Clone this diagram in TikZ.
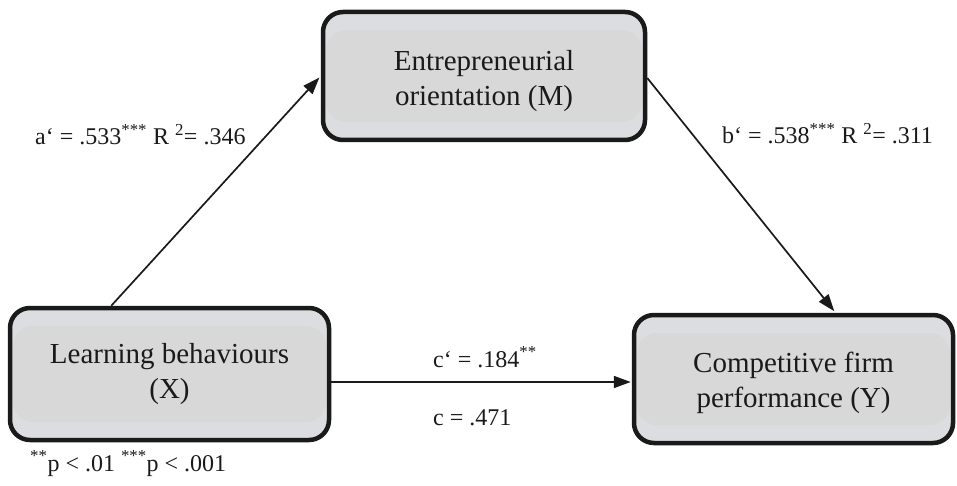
\documentclass[tikz,border=0pt]{standalone}
\usepackage{fontspec}
\setmainfont{Liberation Serif}
\usetikzlibrary{arrows.meta,calc}
\definecolor{boxrim}{HTML}{DCDDE0}
\definecolor{boxcore}{HTML}{D8D8D8}
\definecolor{ink}{HTML}{1A1A1A}
\begin{document}
\begin{tikzpicture}[x=1pt,y=-1pt,
  varbox/.style={draw=ink, line width=4.5pt, rounded corners=20pt, fill=boxrim,
    inner sep=0pt,
    path picture={\fill[boxcore]
      ([xshift=3pt,yshift=-18pt]path picture bounding box.north west) rectangle
      ([xshift=-3pt,yshift=18pt]path picture bounding box.south east);}},
  boxtext/.style={align=center, font=\fontsize{29}{35}\selectfont, text=ink, inner sep=0pt},
  coef/.style={font=\fontsize{24}{28}\selectfont, text=ink, inner sep=0pt, anchor=base west},
  path/.style={draw=ink, line width=1.7pt, -{Triangle[length=17pt,width=12pt]}}]
\useasboundingbox (0,0) rectangle (957,486);

% variables
\node[varbox, minimum width=322pt, minimum height=128pt] (M) at (484,76) {};
\node[varbox, minimum width=319pt, minimum height=132pt] (X) at (169.5,374) {};
\node[varbox, minimum width=319pt, minimum height=128pt] (Y) at (793.5,379) {};
\node[boxtext] (Mlab) at ([yshift=-5pt]M.center) {Entrepreneurial\\orientation (M)};
\node[boxtext] (Xlab) at (X.center) {Learning behaviours\\(X)};
\node[boxtext] (Ylab) at ([yshift=-4pt]Y.center) {Competitive firm\\performance (Y)};

% paths
\draw[path, shorten >=2pt] ($(X.north west)!0.32!(X.north east)$) -- (M.west);
\draw[path, shorten >=2pt] ([yshift=-2pt]M.east) -- ($(Y.north west)!0.63!(Y.north east)$);
\draw[path, shorten >=1pt] ([yshift=-8pt]X.east) -- ([yshift=-8pt]X.east -| Y.west);

% coefficients
\node[coef] (a) at (35,145) {a‘ = .533\textsuperscript{***} R \textsuperscript{2}= .346};
\node[coef] (b) at (722,144) {b‘ = .538\textsuperscript{***} R \textsuperscript{2}= .311};
\node[coef] (cp) at (433,367) {c‘ = .184\textsuperscript{**}};
\node[coef] (c) at (433,425) {c = .471};
\node[coef] (note) at (30,471) {\textsuperscript{**}p < .01 \textsuperscript{***}p < .001};
\end{tikzpicture}
\end{document}
